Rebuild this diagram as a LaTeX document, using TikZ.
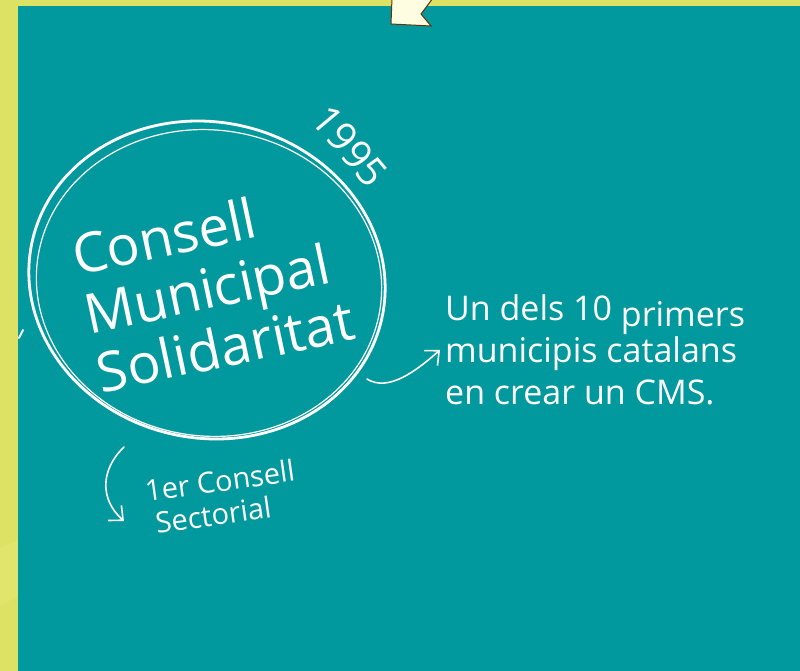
\documentclass[tikz,border=0pt]{standalone}
\usepackage{fontspec}
\setmainfont{Open Sans}
\usetikzlibrary{arrows.meta}
\definecolor{bgyellow}{RGB}{222,226,100}
\definecolor{lightyellow}{RGB}{226,229,108}
\definecolor{tealbg}{RGB}{2,153,158}
\definecolor{cream}{RGB}{255,253,225}
\definecolor{tailbrown}{RGB}{100,50,10}
\tikzset{
  chalk/.style={text=white, inner sep=0pt},
  arr/.style={draw=white, line width=1.6pt, line cap=round, -{Straight Barb[length=11pt,width=20pt,line width=1.6pt]}},
  ring/.style={draw=white, line cap=round}
}
\begin{document}
\begin{tikzpicture}[x=1pt,y=-1pt]
\useasboundingbox (0,0) rectangle (800,671);
\fill[bgyellow] (0,0) rectangle (800,671);
\fill[lightyellow] (0,548) -- (18,540) -- (18,596) -- (0,606) -- cycle;
\fill[tealbg] (18,6) rectangle (800,671);
% speech bubble tail
\filldraw[fill=cream, draw=tailbrown, line width=1pt, line join=miter] (392,-2) -- (391,24) -- (431,26) -- (421,14) -- (433,-2);
% sketched circle
\draw[ring, line width=2.8pt, rotate around={-12:(207,280)}] (207,280) ellipse [x radius=179, y radius=158];
\draw[ring, line width=1.2pt, rotate around={-8:(209,283)}] (209,283) ellipse [x radius=173, y radius=153];
% stray mark at left edge
\draw[white, line width=2pt, line cap=round] (19,338) -- (23,330);
% texts
\node[chalk, rotate=-50, font=\fontsize{40}{42}\selectfont] (year) at (350,146) {1995};
\node[chalk, rotate=12, align=left, font=\fontsize{55}{60}\selectfont] (cms) at (213,287) {Consell\\Municipal\\Solidaritat};
\node[chalk, anchor=north west, align=left, font=\fontsize{34}{42}\selectfont] (txt) at (445,294) {Un dels 10 \raisebox{-6pt}{primers}\\municipis catalans\\en crear un CMS.};
\node[chalk, rotate=8, align=left, font=\fontsize{29}{33}\selectfont] (sect) at (222,497) {1er Consell\\\hspace*{6pt}Sectorial};
% connectors
\coordinate (a1s) at (367,379);
\coordinate (a1e) at (440,350);
\draw[arr] (a1s) .. controls (388,392) and (415,372) .. (a1e);
\coordinate (a2s) at (124,447);
\coordinate (a2e) at (124,521);
\draw[arr] (a2s) .. controls (100,470) and (100,500) .. (a2e);
\end{tikzpicture}
\end{document}
